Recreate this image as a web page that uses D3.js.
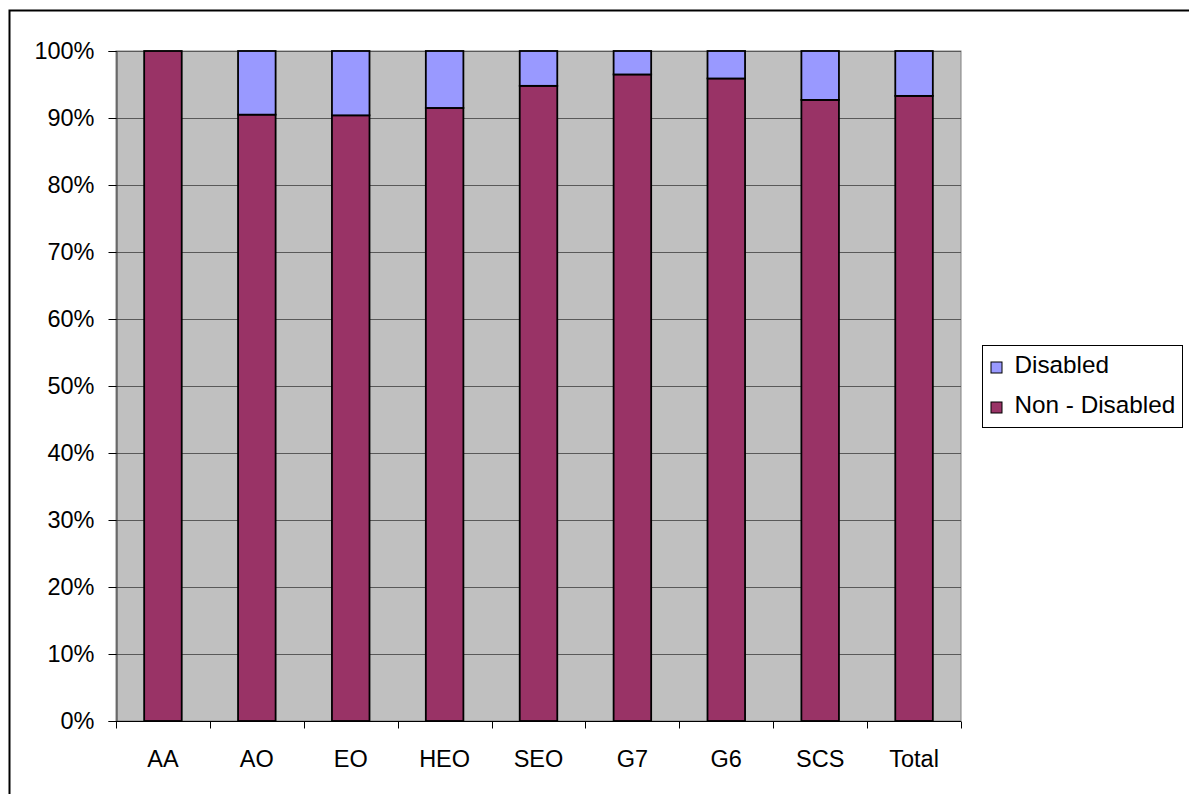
<!DOCTYPE html>
<html>
<head>
<meta charset="utf-8">
<script src="https://cdn.jsdelivr.net/npm/d3@7/dist/d3.min.js"></script>
<style>
  html, body { margin: 0; padding: 0; background: #fff; }
  svg { display: block; font-family: "Liberation Sans", Arial, sans-serif; }
</style>
</head>
<body>
<svg id="chart" width="1189" height="794"></svg>
<script>
// Share of staff by grade, split into disabled and non-disabled
const categories = ["AA", "AO", "EO", "HEO", "SEO", "G7", "G6", "SCS", "Total"];
const nonDisabled = [1.000, 0.905, 0.904, 0.915, 0.948, 0.965, 0.959, 0.927, 0.933];
const disabled    = [0.000, 0.095, 0.096, 0.085, 0.052, 0.035, 0.041, 0.073, 0.067];
const seriesNames = ["Non - Disabled", "Disabled"];
const seriesColors = ["#993366", "#9999ff"];
const yTicks = [0, 0.1, 0.2, 0.3, 0.4, 0.5, 0.6, 0.7, 0.8, 0.9, 1.0];

const FONT = 23.5;
const LEGEND_FONT = 24.3;
const svg = d3.select("#chart");

// Outer chart frame
svg.append("rect")
  .attr("x", 9.5).attr("y", 10.5)
  .attr("width", 1200).attr("height", 800)
  .attr("fill", "#fff").attr("stroke", "#000").attr("stroke-width", 2);

const plot = { left: 116, top: 51, right: 961, bottom: 721 };

const x = d3.scaleBand()
  .domain(categories)
  .range([plot.left, plot.right])
  .paddingInner(0.6)
  .paddingOuter(0.3);

const xOuter = d3.scaleBand()
  .domain(categories)
  .range([plot.left, plot.right]);

const y = d3.scaleLinear().domain([0, 1]).range([plot.bottom, plot.top]);

// Plot area background
svg.append("rect")
  .attr("x", plot.left).attr("y", plot.top)
  .attr("width", plot.right - plot.left).attr("height", plot.bottom - plot.top)
  .attr("fill", "#c0c0c0").attr("stroke", "#808080").attr("stroke-width", 1);

// Horizontal gridlines
svg.append("g")
  .selectAll("line")
  .data(yTicks.filter(d => d > 0))
  .join("line")
  .attr("x1", plot.left).attr("x2", plot.right)
  .attr("y1", d => Math.round(y(d)) + 0.5).attr("y2", d => Math.round(y(d)) + 0.5)
  .attr("stroke", "#595959").attr("stroke-width", 1.2);

// Stacked bars
const rows = categories.map((c, i) => ({ cat: c, "Non - Disabled": nonDisabled[i], "Disabled": disabled[i] }));
const stacked = d3.stack().keys(seriesNames)(rows);

svg.append("g")
  .selectAll("g")
  .data(stacked)
  .join("g")
  .attr("fill", (d, i) => seriesColors[i])
  .selectAll("rect")
  .data(d => d.filter(p => p[1] - p[0] > 0))
  .join("rect")
  .attr("x", d => x(d.data.cat))
  .attr("width", x.bandwidth())
  .attr("y", d => y(d[1]))
  .attr("height", d => y(d[0]) - y(d[1]))
  .attr("stroke", "#000").attr("stroke-width", 1.8);

// Y axis
const yAxis = svg.append("g")
  .attr("transform", `translate(${plot.left + 0.5},0)`)
  .call(d3.axisLeft(y).tickValues(yTicks).tickFormat(d3.format(".0%")).tickSizeOuter(0).tickSize(8).tickPadding(14));
yAxis.select(".domain").attr("stroke", "#333");
yAxis.selectAll(".tick line").attr("stroke", "#000");
yAxis.selectAll("text").attr("font-size", FONT).attr("fill", "#000").attr("font-family", "Liberation Sans, Arial, sans-serif");

// X axis with ticks between categories
const xAxisG = svg.append("g").attr("transform", `translate(0,${plot.bottom + 0.5})`);
xAxisG.append("line")
  .attr("x1", plot.left).attr("x2", plot.right)
  .attr("stroke", "#000");
xAxisG.selectAll("line.sep")
  .data(categories.concat(["__end"]))
  .join("line")
  .attr("class", "sep")
  .attr("x1", (d, i) => Math.round(plot.left + i * xOuter.step()) + 0.5)
  .attr("x2", (d, i) => Math.round(plot.left + i * xOuter.step()) + 0.5)
  .attr("y1", 0).attr("y2", 7)
  .attr("stroke", "#000");
xAxisG.selectAll("text")
  .data(categories)
  .join("text")
  .attr("x", d => xOuter(d) + xOuter.bandwidth() / 2)
  .attr("y", 45)
  .attr("text-anchor", "middle")
  .attr("font-size", FONT)
  .attr("fill", "#000")
  .text(d => d);

// Legend
const legend = svg.append("g").attr("transform", "translate(982.5,345.5)");
legend.append("rect")
  .attr("width", 200).attr("height", 82)
  .attr("fill", "#fff").attr("stroke", "#000").attr("stroke-width", 1);
const legendItems = [
  { name: "Disabled", color: seriesColors[1] },
  { name: "Non - Disabled", color: seriesColors[0] }
];
const li = legend.selectAll("g.item")
  .data(legendItems)
  .join("g")
  .attr("class", "item")
  .attr("transform", (d, i) => `translate(8,${27 + i * 40})`);
li.append("rect")
  .attr("x", 0.5).attr("y", -10.5).attr("width", 11).attr("height", 11)
  .attr("fill", d => d.color).attr("stroke", "#000").attr("stroke-width", 1);
li.append("text")
  .attr("x", 24).attr("y", 0)
  .attr("font-size", LEGEND_FONT).attr("fill", "#000")
  .text(d => d.name);
</script>
</body>
</html>
